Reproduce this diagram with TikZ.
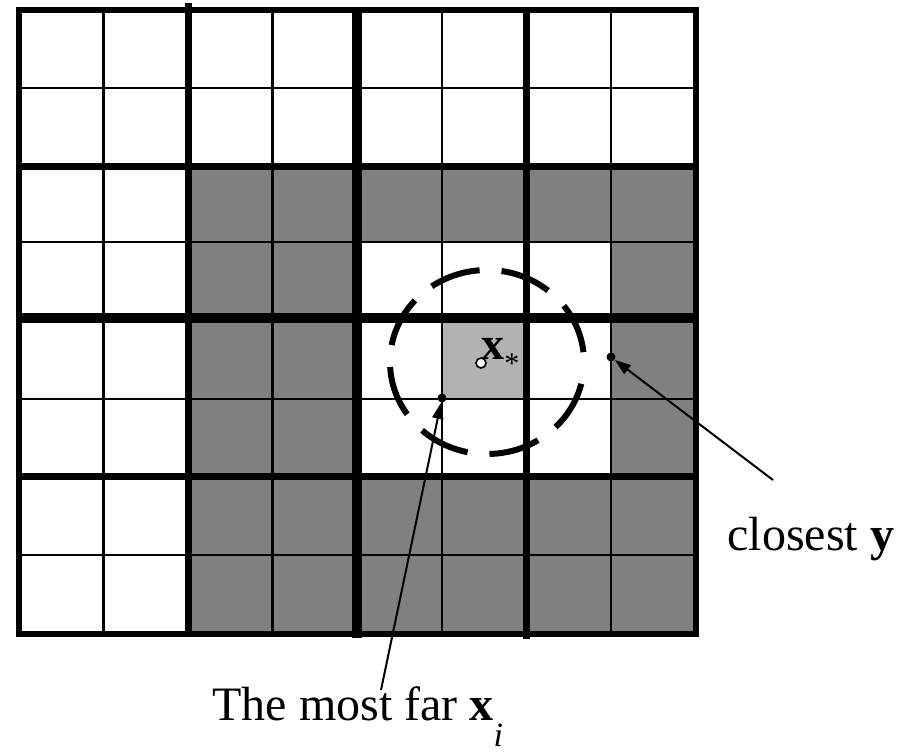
\documentclass[tikz,border=0pt]{standalone}
\usepackage{fontspec}
\setmainfont{Liberation Serif}
\usetikzlibrary{arrows.meta}
\begin{document}
\begin{tikzpicture}[x=0.5pt,y=-0.5pt,
  thinline/.style={line width=1.2pt},
  midline/.style={line width=3.5pt},
  bigline/.style={line width=5.2pt},
  border/.style={line width=3pt},
  darkcell/.style={fill=black!50},
  lightcell/.style={fill=black!30},
  dotfill/.style={circle,fill=black,inner sep=0pt,minimum size=4.5pt},
  dotopen/.style={circle,draw=black,fill=white,line width=0.8pt,inner sep=0pt,minimum size=5pt},
  pointer/.style={line width=1pt,-{Triangle[length=8pt,width=5.5pt]}},
  lbl/.style={inner sep=0pt,anchor=base west,font=\fontsize{24}{28}\selectfont}]
\useasboundingbox (0,0) rectangle (911,752);
% shaded cells
\fill[darkcell] (188,166) rectangle (696,242);
\fill[darkcell] (188,242) rectangle (357,476);
\fill[darkcell] (611,242) rectangle (696,476);
\fill[darkcell] (188,476) rectangle (696,634);
\fill[lightcell] (442,318) rectangle (526,399);
% thin grid lines
\foreach \x in {103.6,272.5,442,611} \draw[thinline] (\x,10) -- (\x,634);
\foreach \y in {88,242,399,555} \draw[thinline] (19,\y) -- (696,\y);
% medium lines
\draw[midline] (188,3) -- (188,634);
\draw[midline] (526,10) -- (526,639);
\draw[midline] (19,166) -- (696,166);
\draw[midline] (19,476) -- (696,476);
% central lines
\draw[bigline] (357,10) -- (357,638);
\draw[bigline] (19,318) -- (696,318);
% border
\draw[border] (19,10) rectangle (696,634);
% dashed circle
\draw[line width=3pt,dash pattern=on 25.5pt off 11pt,dash phase=25.5pt] (487,362) ellipse [x radius=97,y radius=92];
% points
\node[dotopen] (xstar) at (481,363) {};
\node[dotfill] (far) at (442,398) {};
\node[dotfill] (ydot) at (611,357) {};
\node[inner sep=0pt,anchor=base west,font=\fontsize{23}{26}\selectfont] (xlabel) at (481,359) {\textbf{x}\raisebox{-7pt}{\fontsize{15}{15}\selectfont *}};
% labels
\node[lbl] (farlabel) at (212,720) {The most far \textbf{x}\raisebox{-13pt}{\fontsize{17}{17}\selectfont\itshape i}};
\node[lbl] (ylabel) at (727,550) {closest \textbf{y}};
% arrows
\coordinate (fartail) at (381,690);
\coordinate (ytail) at (773,480);
\draw[pointer] (fartail) -- (far);
\draw[pointer] (ytail) -- (ydot);
\end{tikzpicture}
\end{document}
